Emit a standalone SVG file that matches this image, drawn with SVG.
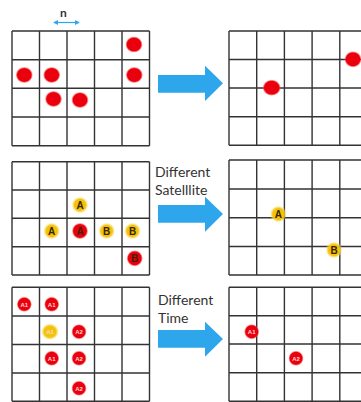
<svg xmlns="http://www.w3.org/2000/svg" width="361" height="402" viewBox="0 0 361 402">
<defs>
<style>
.g{fill:none;stroke:#333;stroke-width:1.4}
.arr{fill:#2ea6ec}
.lbl{font-family:Lato,"Open Sans",sans-serif;font-size:14px;fill:#333}
.ab{font-family:"Liberation Sans",Arial,sans-serif;font-size:10px;font-weight:bold;fill:#3b2400;text-anchor:middle}
.an{font-family:"Liberation Sans",Arial,sans-serif;font-size:6px;font-weight:bold;fill:#ffd8d8;text-anchor:middle}
</style>
<radialGradient id="red"><stop offset="0" stop-color="#ee0010"/><stop offset="0.8" stop-color="#e8000c"/><stop offset="1" stop-color="#ff5a5a" stop-opacity="0.3"/></radialGradient>
<radialGradient id="yel"><stop offset="0" stop-color="#f2c200"/><stop offset="0.7" stop-color="#f3c20e"/><stop offset="1" stop-color="#fbe36a" stop-opacity="0.3"/></radialGradient>
<marker id="mh" viewBox="0 0 6 6" refX="5" refY="3" markerWidth="4" markerHeight="4" orient="auto-start-reverse"><path d="M0,0 L6,3 L0,6 z" fill="#2ea6ec"/></marker>
</defs>
<rect width="361" height="402" fill="#fff"/>

<g id="scale">
<text x="63.5" y="17" font-family="Lato,'Open Sans',sans-serif" font-size="12" font-weight="bold" fill="#333" text-anchor="middle">n</text>
<line x1="54" y1="22.5" x2="79" y2="22.5" stroke="#2ea6ec" stroke-width="1.2" marker-start="url(#mh)" marker-end="url(#mh)"/>
</g>

<g id="grid1-left">
<path class="g" d="M12,31H149.5M12,59.7H149.5M12,88.3H149.5M12,117H149.5M12,145.7H149.5M12,31V145.7M39.5,31V145.7M67,31V145.7M94.5,31V145.7M122,31V145.7M149.5,31V145.7"/>
<ellipse cx="134" cy="44.5" rx="8.5" ry="8" fill="url(#red)"/>
<ellipse cx="24.3" cy="75" rx="8.5" ry="8" fill="url(#red)"/>
<ellipse cx="51.7" cy="75" rx="8.5" ry="8" fill="url(#red)"/>
<ellipse cx="134.3" cy="75" rx="8.5" ry="8" fill="url(#red)"/>
<ellipse cx="53.5" cy="99" rx="8.5" ry="8" fill="url(#red)"/>
<ellipse cx="80" cy="100" rx="8.5" ry="8" fill="url(#red)"/>
</g>
<g id="grid1-right">
<path class="g" d="M229,31H362M229,59.5H362M229,88H362M229,116.7H362M229,145.3H362M229,31V145.3M256.7,31V145.3M284.4,31V145.3M312.1,31V145.3M339.8,31V145.3"/>
<ellipse cx="271.7" cy="87.7" rx="9" ry="8" fill="url(#red)"/>
<ellipse cx="353" cy="59.3" rx="8.5" ry="8" fill="url(#red)"/>
</g>

<g id="grid2-left">
<path class="g" d="M12,161.7H149.5M12,190H149.5M12,218.3H149.5M12,246.7H149.5M12,275H149.5M12,161.7V275M39.5,161.7V275M67,161.7V275M94.5,161.7V275M122,161.7V275M149.5,161.7V275"/>
<circle cx="80" cy="205" r="8" fill="url(#yel)"/><text class="ab" x="80" y="208.6">A</text>
<circle cx="51.7" cy="231" r="8" fill="url(#yel)"/><text class="ab" x="51.7" y="234.6">A</text>
<circle cx="80" cy="231" r="8" fill="url(#red)"/><text class="ab" x="80" y="234.6" fill="#5a0000">A</text>
<circle cx="106.7" cy="231" r="8" fill="url(#yel)"/><text class="ab" x="106.7" y="234.6">B</text>
<circle cx="132.5" cy="231" r="8" fill="url(#yel)"/><text class="ab" x="132.5" y="234.6">B</text>
<circle cx="134.7" cy="258.3" r="8" fill="url(#red)"/><text class="ab" x="134.7" y="261.9" fill="#5a0000">B</text>
</g>
<g id="grid2-right">
<path class="g" d="M229,160H362M229,189H362M229,217.7H362M229,246.5H362M229,275H362M229,160V275M256.7,160V275M284.4,160V275M312.1,160V275M339.8,160V275"/>
<circle cx="278.3" cy="214" r="8" fill="url(#yel)"/><text class="ab" x="278.3" y="217.6">A</text>
<circle cx="334" cy="250" r="8" fill="url(#yel)"/><text class="ab" x="334" y="253.6">B</text>
</g>

<g id="grid3-left">
<path class="g" d="M12,287.3H149.5M12,316H149.5M12,344.5H149.5M12,373H149.5M12,401.3H149.5M12,287.3V401.3M39.5,287.3V401.3M67,287.3V401.3M94.5,287.3V401.3M122,287.3V401.3M149.5,287.3V401.3"/>
<circle cx="24.3" cy="304.3" r="7.5" fill="url(#red)"/><text class="an" x="24.3" y="306.5">A1</text>
<circle cx="51.7" cy="304.3" r="7.5" fill="url(#red)"/><text class="an" x="51.7" y="306.5">A1</text>
<ellipse cx="50" cy="331.7" rx="8.5" ry="8" fill="url(#yel)"/><text class="an" x="50" y="333.9" fill="#fbe6a0">A1</text>
<circle cx="79" cy="331.7" r="7.5" fill="url(#red)"/><text class="an" x="79" y="333.9">A2</text>
<circle cx="51.7" cy="358.3" r="7.5" fill="url(#red)"/><text class="an" x="51.7" y="360.5">A1</text>
<circle cx="79" cy="358.3" r="7.5" fill="url(#red)"/><text class="an" x="79" y="360.5">A2</text>
<circle cx="79" cy="388.3" r="7.5" fill="url(#red)"/><text class="an" x="79" y="390.5">A2</text>
</g>
<g id="grid3-right">
<path class="g" d="M229,287.3H362M229,315.7H362M229,344H362M229,372.7H362M229,401.3H362M229,287.3V401.3M256.7,287.3V401.3M284.4,287.3V401.3M312.1,287.3V401.3M339.8,287.3V401.3"/>
<circle cx="251.7" cy="331.7" r="7.5" fill="url(#red)"/><text class="an" x="251.7" y="333.9">A1</text>
<circle cx="296" cy="358.3" r="7.5" fill="url(#red)"/><text class="an" x="296" y="360.5">A2</text>
</g>

<g id="connectors">
<polygon class="arr" points="158,75 205,75 205,65.7 223,83.3 205,101 205,92.7 158,92.7"/>
<polygon class="arr" points="158,205 205,205 205,196.7 223,214 205,231.7 205,222.7 158,222.7"/>
<polygon class="arr" points="158,330 205,330 205,321.7 223,339 205,356.7 205,347.7 158,347.7"/>
</g>
<g id="labels">
<text class="lbl" x="155" y="176.5">Different</text>
<text class="lbl" x="155" y="195">Satelllite</text>
<text class="lbl" x="158" y="305">Different</text>
<text class="lbl" x="158" y="323.3">Time</text>
</g>
</svg>
